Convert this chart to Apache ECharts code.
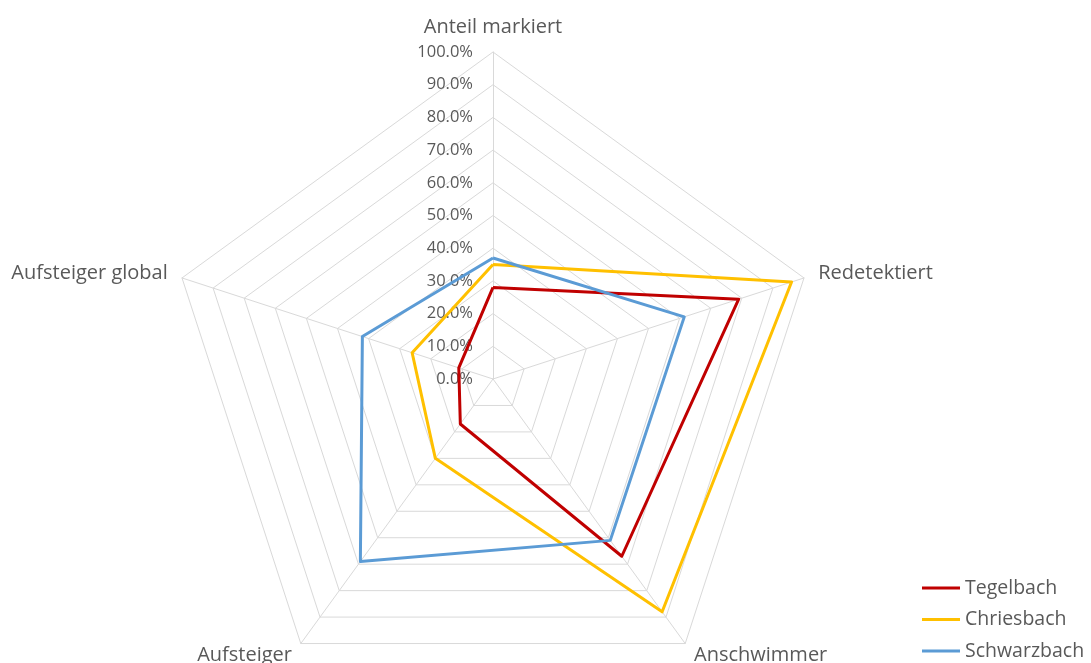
<!DOCTYPE html>
<html>
<head>
<meta charset="utf-8">
<script src="https://cdn.jsdelivr.net/npm/echarts@6/dist/echarts.min.js"></script>
<style>
  html, body { margin: 0; padding: 0; background: #ffffff; }
  #chart { width: 1091px; height: 663px; }
</style>
</head>
<body>
<div id="chart"></div>
<script>
// Axes, listed clockwise starting at the top
const categories = ['Anteil markiert', 'Redetektiert', 'Anschwimmer', 'Aufsteiger', 'Aufsteiger global'];

// Shares in percent, same order as the categories
const tegelbach   = [28, 79, 67, 17, 11];
const chriesbach  = [35, 96, 88, 30, 26];
const schwarzbach = [37, 61.5, 61, 69, 42];

const seriesNames  = ['Tegelbach', 'Chriesbach', 'Schwarzbach'];
const seriesValues = [tegelbach, chriesbach, schwarzbach];
const seriesColors = ['#C00000', '#FFC000', '#5B9BD5'];

// Scale: 0 % … 100 % in steps of 10 %
const scaleMax = 100;
const scaleSteps = 10;

// ECharts lays radar axes out counter-clockwise; flip so they run clockwise
const clockwise = arr => [arr[0]].concat(arr.slice(1).reverse());

const textGrey = '#595959';
const gridGrey = '#d9d9d9';
const fontFamily = '"Open Sans", "Noto Sans", sans-serif';

const indicators = clockwise(categories).map((name, i) => ({
  name: name,
  min: 0,
  max: scaleMax,
  axisLabel: { show: i === 0 }
}));

const chart = echarts.init(document.getElementById('chart'), null, { renderer: 'canvas' });

chart.setOption({
  animation: false,
  backgroundColor: '#ffffff',
  color: seriesColors,
  textStyle: { fontFamily: fontFamily },
  legend: {
    data: seriesNames,
    orient: 'vertical',
    left: 922,
    top: 578,
    padding: 0,
    icon: 'rect',
    itemWidth: 38,
    itemHeight: 3,
    itemGap: 11.5,
    textStyle: {
      color: textGrey,
      fontSize: 19.5,
      lineHeight: 20,
      fontFamily: fontFamily,
      padding: [0, 0, 0, 0]
    }
  },
  radar: {
    center: [493, 379],
    radius: 327,
    startAngle: 90,
    shape: 'polygon',
    splitNumber: scaleSteps,
    indicator: indicators,
    nameGap: 15,
    axisName: {
      color: textGrey,
      fontSize: 20,
      fontFamily: fontFamily
    },
    axisLine: { show: true, lineStyle: { color: gridGrey, width: 1 } },
    splitLine: { show: true, lineStyle: { color: gridGrey, width: 1 } },
    splitArea: { show: false },
    axisTick: { show: false },
    axisLabel: {
      margin: 20,
      color: textGrey,
      fontSize: 16.5,
      fontFamily: fontFamily,
      formatter: v => Number(v).toFixed(1) + '%'
    }
  },
  series: [{
    type: 'radar',
    symbol: 'none',
    data: seriesNames.map((name, i) => ({
      name: name,
      value: clockwise(seriesValues[i]),
      lineStyle: { color: seriesColors[i], width: 3 },
      itemStyle: { color: seriesColors[i] }
    }))
  }]
});
</script>
</body>
</html>
